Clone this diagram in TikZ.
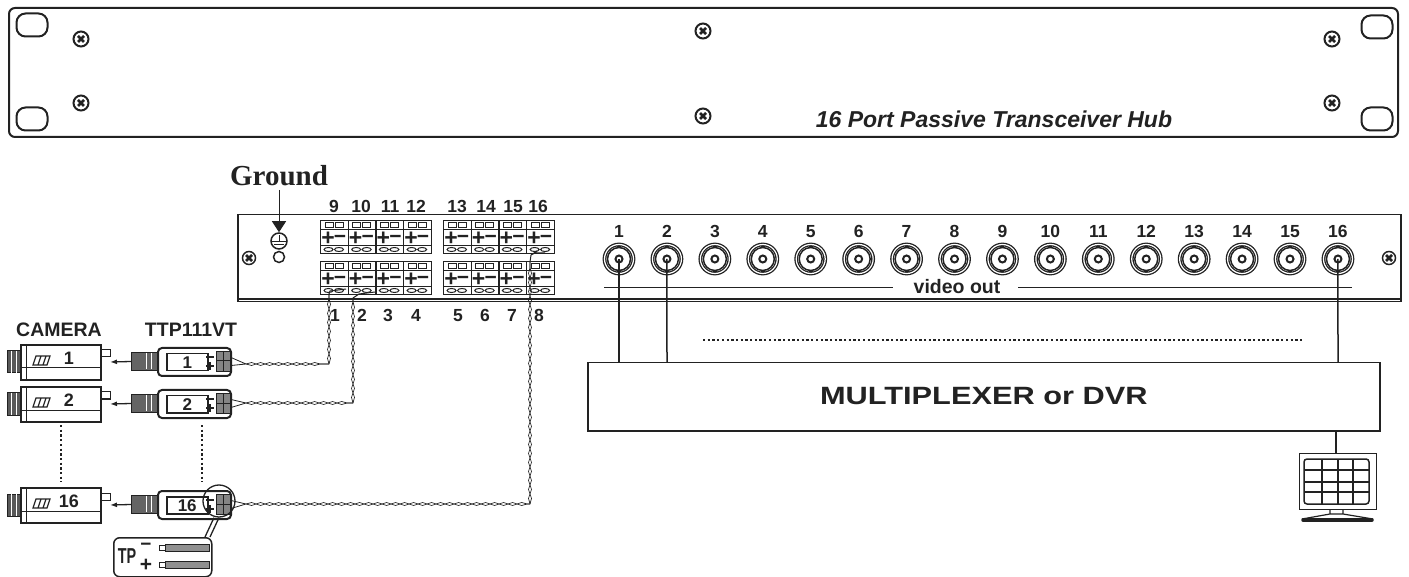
\documentclass[tikz,border=0pt]{standalone}
\usepackage{fontspec}
\setmainfont{Liberation Sans}
\newfontfamily\groundfont{Liberation Serif}
\usetikzlibrary{decorations.pathmorphing,arrows.meta}
\definecolor{ink}{HTML}{222222}
\tikzset{
  line/.style={draw=ink, line width=1.5pt},
  panel/.style={draw=ink, line width=2pt, rounded corners=6pt, anchor=north west, inner sep=0pt},
  slot/.style={draw=ink, line width=2pt, rounded corners=9pt, minimum width=31pt, minimum height=23pt, inner sep=0pt},
  screw/.style={circle, draw=ink, line width=2pt, minimum size=15pt, inner sep=0pt,
    path picture={\draw[ink, line width=2.6pt] (path picture bounding box.center) +(-3pt,-3pt) -- +(3pt,3pt) +(-3pt,3pt) -- +(3pt,-3pt);}},
  num/.style={text=ink, font=\fontsize{17.5}{17.5}\selectfont\bfseries, inner sep=0pt, text height=12.5pt, text depth=0pt},
  title/.style={text=ink, font=\fontsize{19.5}{19.5}\selectfont\bfseries, inner sep=0pt},
  bnc/.style={circle, draw=ink, line width=1.3pt, double=white, double distance=1.2pt, minimum size=29pt, inner sep=0pt},
  core/.style={circle, draw=ink, line width=1.5pt, minimum size=23pt, inner sep=0pt},
  pin/.style={circle, draw=ink, line width=2pt, fill=white, minimum size=7pt, inner sep=0pt},
  twist/.style={preaction={draw=ink, line width=.7pt, decorate, decoration={snake, amplitude=1.5pt, segment length=18pt}},
    preaction={draw=ink, line width=.7pt, decorate, decoration={snake, mirror=true, amplitude=1.5pt, segment length=18pt}}},
  dots/.style={draw=ink, line width=2.5pt, dash pattern=on 2.3pt off 2.4pt},
}
% one cell of the terminal strip
\newcommand{\termcell}[3]{
  \node[draw=ink, line width=1.2pt, anchor=north west, minimum width=27.7pt, minimum height=33pt, inner sep=0pt] (term#1) at (#2,#3) {};
  \draw[ink, line width=1pt] (#2,#3+10) -- +(27.7,0) (#2,#3+26) -- +(27.7,0);
  \draw[ink, line width=1pt] (#2+5,#3+3) rectangle +(8,5) (#2+15,#3+3) rectangle +(8,5);
  \draw[ink, line width=1pt] (#2+8.5,#3+29.5) ellipse (4.5 and 2) (#2+19,#3+29.5) ellipse (4.5 and 2);
  \node[text=ink, inner sep=0pt, font=\fontsize{23}{23}\selectfont\bfseries] at (#2+8,#3+19) {+};
  \node[text=ink, inner sep=0pt, font=\fontsize{21}{21}\selectfont\bfseries] at (#2+20,#3+19) {−};
}
\begin{document}
\begin{tikzpicture}[x=1pt, y=-1pt]
  \useasboundingbox (0,0) rectangle (1409,577);

  % front panel
  \node[panel, minimum width=1389pt, minimum height=129pt] (front) at (8,7) {};
  \node[slot] (slot_a) at (32,25) {};
  \node[slot] (slot_b) at (32,119) {};
  \node[slot] (slot_c) at (1377,27) {};
  \node[slot] (slot_d) at (1377,119) {};
  \foreach \n/\x/\y in {a/81/39, b/81/103, c/703/31, d/703/116, e/1332/39, f/1332/103}
    \node[screw] (screw_\n) at (\x,\y) {};
  \node[text=ink, font=\fontsize{23}{23}\selectfont\bfseries\itshape] (hub_title) at (994,119) {16 Port Passive Transceiver Hub};

  % back panel
  \node[draw=ink, line width=1.5pt, anchor=north west, minimum width=1163pt, minimum height=87pt, inner sep=0pt] (back) at (237,214) {};
  \draw[ink, line width=2pt] (back.south west) ++(0,-3) -- ++(1163,0);
  \node[screw, minimum size=13pt, line width=1.5pt] (screw_g) at (249,258) {};
  \node[screw, minimum size=13pt, line width=1.5pt] (screw_h) at (1389,258) {};

  % ground
  \node[text=ink, font=\groundfont\fontsize{29}{29}\selectfont\bfseries] (ground) at (279,176) {Ground};
  \node[circle, draw=ink, line width=1.5pt, minimum size=16pt, inner sep=0pt] (earth) at (279,241) {};
  \node[circle, draw=ink, line width=1.5pt, minimum size=11pt, inner sep=0pt] (earth_hole) at (279,257) {};
  \draw[ink, line width=1pt, -{Triangle[length=11pt,width=14pt]}] (ground.south) -- (earth.north);
  \draw[ink, line width=1pt] (272,242) -- (286,242) (279,235) -- (279,242) (274,245) -- (284,245);

  % terminal strips
  \foreach \n/\x in {9/320, 10/347.7, 11/375.4, 12/403.1, 13/443, 14/470.7, 15/498.4, 16/526.1}
    \termcell{\n}{\x}{220};
  \foreach \n/\x in {1/320, 2/347.7, 3/375.4, 4/403.1, 5/443, 6/470.7, 7/498.4, 8/526.1}
    \termcell{\n}{\x}{261};
  \foreach \n/\x in {9/334, 10/361, 11/390, 12/416, 13/457, 14/486, 15/513, 16/538}
    \node[num] (top\n) at (\x,206) {\n};
  \foreach \n/\x in {1/335, 2/362, 3/388, 4/416, 5/458, 6/485, 7/512, 8/539}
    \node[num] (low\n) at (\x,315) {\n};

  % video outputs
  \foreach \i in {1,...,16} {
    \pgfmathsetmacro{\xb}{619+47.93*(\i-1)}
    \node[bnc] (ring\i) at (\xb,259) {};
    \node[core] (core\i) at (\xb,259) {};
    \node[pin] (bnc\i) at (\xb,259) {};
    \node[num] (out\i) at (\xb,231) {\i};
    \draw[ink, line width=2pt] (\xb-2,247) -- (\xb+2,247) (\xb-2,271) -- (\xb+2,271);
  }
  \node[title] (video) at (957,287) {video out};
  \coordinate (rule_a) at (604,288);
  \coordinate (rule_b) at (893,288);
  \coordinate (rule_c) at (1018,288);
  \coordinate (rule_d) at (1352,288);
  \draw[ink, line width=1pt] (rule_a) -- (rule_b) (rule_c) -- (rule_d);

  % multiplexer
  \node[draw=ink, line width=1.5pt, anchor=north west, minimum width=792pt, minimum height=68pt, inner sep=0pt,
    text=ink, font=\fontsize{25}{25}\selectfont\bfseries] (mux) at (587,362) {\raisebox{2pt}{\scalebox{1.23}[1]{MULTIPLEXER or DVR}}};
  \coordinate (mux_a) at (619,362);
  \coordinate (mux_b) at (667,362);
  \coordinate (mux_c) at (1338,362);
  \draw[line] (bnc1.center) -- (mux_a);
  \draw[line] (bnc2.center) -- (mux_b);
  \draw[line] (bnc16.center) -- (mux_c);
  \coordinate (dot_a) at (703,340);
  \coordinate (dot_b) at (1303,340);
  \draw[dots] (dot_a) -- (dot_b);

  % monitor
  \node[draw=ink, line width=1.3pt, anchor=north west, minimum width=77pt, minimum height=56pt, inner sep=0pt] (monitor) at (1299,453) {};
  \coordinate (mux_d) at (1336,430);
  \draw[line] (mux_d) -- (mux_d |- monitor.north);
  \draw[ink, line width=1.5pt, rounded corners=3pt] (1304,459) rectangle (1369,504);
  \draw[ink, line width=1.5pt] (1322,459) -- (1322,504) (1338,459) -- (1338,504) (1353,459) -- (1353,504)
    (1304,470) -- (1369,470) (1304,482) -- (1369,482) (1304,492) -- (1369,492);
  \draw[ink, line width=1.2pt] (1330,509) -- (1330,514) -- (1302,519) (1343,509) -- (1343,514) -- (1373,519) (1330,514) -- (1343,514);
  \draw[ink, line width=3.5pt, line cap=round] (1303,520) -- (1372,520);

  % cameras and baluns
  \node[title] (camera_title) at (59,330) {CAMERA};
  \node[title] (ttp_title) at (191,330) {TTP111VT};
  \foreach \n/\y/\w in {1/344/364, 2/386/403, 16/487/504} {
    \node[draw=ink, line width=2pt, anchor=north west, minimum width=80pt, minimum height=35pt, inner sep=0pt] (cam\n) at (20,\y) {};
    \draw[ink, line width=1pt] (26,\y) -- (26,\y+35) (20,\y+24) -- (100,\y+24);
    \draw[ink, line width=1pt, fill=ink!75] (7,\y+7) rectangle (20,\y+29);
    \draw[white, line width=1pt] (11,\y+7) -- (11,\y+29) (16,\y+7) -- (16,\y+29);
    \draw[ink, line width=1.2pt] (33,\y+21) -- (36,\y+12) -- (50,\y+12) -- (47,\y+21) -- cycle (38,\y+21) -- (41,\y+12) (43,\y+21) -- (46,\y+12);
    \node[num, font=\fontsize{18}{18}\selectfont\bfseries] (camnum\n) at (69,\y+14) {\n};
    \draw[ink, line width=1pt] (100,\y+6) -- (110,\y+6) -- (110,\y+13) -- (100,\y+13);
    \coordinate (jack\n) at (110,\y+18);
    % balun
    \node[draw=ink, line width=2pt, rounded corners=4pt, anchor=north west, minimum width=73pt, minimum height=28pt, inner sep=0pt] (tx\n) at (157,\y+3) {};
    \node[draw=ink, line width=1.5pt, anchor=north west, minimum width=41pt, minimum height=17pt, inner sep=0pt, text=ink, font=\fontsize{17}{17}\selectfont\bfseries] (txnum\n) at (166,\y+9) {\n};
    \node[draw=ink, fill=ink!55, line width=1pt, anchor=north west, minimum width=14pt, minimum height=20pt, inner sep=0pt] (txpins\n) at (216,\y+7) {};
    \draw[ink, line width=1pt] (216,\y+17) -- (230,\y+17) (223,\y+7) -- (223,\y+27);
    \node[draw=ink, fill=ink!70, line width=1pt, anchor=north west, minimum width=26pt, minimum height=18pt, inner sep=0pt] (plug\n) at (131,\y+8) {};
    \draw[white, line width=1pt] (146,\y+9) -- (146,\y+25) (151,\y+9) -- (151,\y+25);
    \draw[ink, line width=1.5pt] (206,\y+13) -- (214,\y+13) (206,\y+22) -- (214,\y+22) (210,\y+18) -- (210,\y+26);
    \draw[ink, line width=1.3pt, -{Latex[length=7pt,width=5pt]}] (plug\n.west) -- (jack\n);
    \coordinate (tp\n_a) at (246,\w);
    \draw[ink, line width=.8pt] (txpins\n.east) ++(0,-4) -- (tp\n_a) (txpins\n.east) ++(0,4) -- (tp\n_a);
  }
  \draw[dots] (61,425) -- (61,482);
  \draw[dots] (202,425) -- (202,482);

  % twisted pair
  \coordinate (tp1_b) at (329,294);
  \coordinate (tp2_b) at (353,298);
  \coordinate (tp16_b) at (530,262);
  \coordinate (tp1_c) at (329,364);
  \coordinate (tp2_c) at (353,403);
  \coordinate (tp16_c) at (530,504);
  \path[twist] (tp1_a) -- (tp1_c);
  \path[twist] (tp1_c) -- (tp1_b);
  \path[twist] (tp2_a) -- (tp2_c);
  \path[twist] (tp2_c) -- (tp2_b);
  \path[twist] (tp16_a) -- (tp16_c);
  \path[twist] (tp16_c) -- (tp16_b);
  \draw[ink, line width=1pt] (tp1_b) -- ++(1,-3) -- ++(16,-2);
  \draw[ink, line width=1pt] (tp2_b) -- ++(6,-4) -- ++(16,-2);
  \draw[ink, line width=1pt] (tp16_b) -- ++(1,-7) -- ++(4,-2) -- ++(10,0) (tp16_b) ++(1,-7) -- ++(6,-4);

  % detail of the + and - wires
  \node[circle, draw=ink, line width=1.3pt, minimum size=32pt, inner sep=0pt] (zoom_ring) at (219,501) {};
  \node[draw=ink, line width=1.5pt, rounded corners=6pt, anchor=north west, minimum width=98pt, minimum height=39pt, inner sep=0pt] (tp_box) at (113,537) {};
  \draw[ink, line width=1.3pt] (zoom_ring.south) ++(-5,0) -- (205,537) (zoom_ring.south) -- (210,537);
  \node[text=ink, inner sep=0pt, font=\fontsize{18}{18}\selectfont\bfseries] (tp_label) at (127,556) {\scalebox{.8}[1.2]{TP}};
  \node[text=ink, inner sep=0pt, font=\fontsize{19}{19}\selectfont\bfseries] (tp_minus) at (146,547) {−};
  \node[text=ink, inner sep=0pt, font=\fontsize{21}{21}\selectfont\bfseries] (tp_plus) at (146,565) {+};
  \draw[ink, line width=1pt, fill=ink!50] (165,544) rectangle (209,551) (165,561) rectangle (209,568);
  \draw[ink, line width=1pt, fill=white] (159,545) rectangle (165,550) (159,562) rectangle (165,567);
\end{tikzpicture}
\end{document}
